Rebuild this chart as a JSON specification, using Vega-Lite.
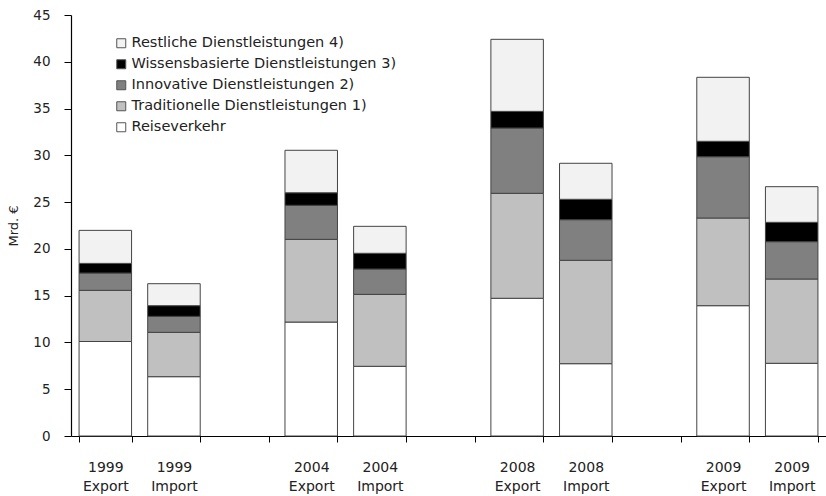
{
  "$schema": "https://vega.github.io/schema/vega-lite/v6.json",
  "autosize": {"type": "none"},
  "padding": {"left": 71, "top": 15, "right": 0, "bottom": 60},
  "width": 755,
  "height": 421,
  "background": "white",
  "config": {
    "view": {"stroke": null},
    "font": "DejaVu Sans",
    "axis": {"labelFont": "DejaVu Sans", "titleFont": "DejaVu Sans", "labelColor": "#222", "titleColor": "#222", "domainColor": "#000", "tickColor": "#000", "grid": false},
    "legend": {"labelFont": "DejaVu Sans"}
  },
  "data": {
    "values": [
      {"Gruppe": "1999 Export", "Kategorie": "Reiseverkehr", "Wert": 10.1},
      {"Gruppe": "1999 Export", "Kategorie": "Traditionelle Dienstleistungen 1)", "Wert": 5.47},
      {"Gruppe": "1999 Export", "Kategorie": "Innovative Dienstleistungen 2)", "Wert": 1.85},
      {"Gruppe": "1999 Export", "Kategorie": "Wissensbasierte Dienstleistungen 3)", "Wert": 1.03},
      {"Gruppe": "1999 Export", "Kategorie": "Restliche Dienstleistungen 4)", "Wert": 3.53},
      {"Gruppe": "1999 Import", "Kategorie": "Reiseverkehr", "Wert": 6.34},
      {"Gruppe": "1999 Import", "Kategorie": "Traditionelle Dienstleistungen 1)", "Wert": 4.74},
      {"Gruppe": "1999 Import", "Kategorie": "Innovative Dienstleistungen 2)", "Wert": 1.71},
      {"Gruppe": "1999 Import", "Kategorie": "Wissensbasierte Dienstleistungen 3)", "Wert": 1.14},
      {"Gruppe": "1999 Import", "Kategorie": "Restliche Dienstleistungen 4)", "Wert": 2.35},
      {"Gruppe": "2004 Export", "Kategorie": "Reiseverkehr", "Wert": 12.18},
      {"Gruppe": "2004 Export", "Kategorie": "Traditionelle Dienstleistungen 1)", "Wert": 8.84},
      {"Gruppe": "2004 Export", "Kategorie": "Innovative Dienstleistungen 2)", "Wert": 3.64},
      {"Gruppe": "2004 Export", "Kategorie": "Wissensbasierte Dienstleistungen 3)", "Wert": 1.34},
      {"Gruppe": "2004 Export", "Kategorie": "Restliche Dienstleistungen 4)", "Wert": 4.54},
      {"Gruppe": "2004 Import", "Kategorie": "Reiseverkehr", "Wert": 7.45},
      {"Gruppe": "2004 Import", "Kategorie": "Traditionelle Dienstleistungen 1)", "Wert": 7.69},
      {"Gruppe": "2004 Import", "Kategorie": "Innovative Dienstleistungen 2)", "Wert": 2.71},
      {"Gruppe": "2004 Import", "Kategorie": "Wissensbasierte Dienstleistungen 3)", "Wert": 1.68},
      {"Gruppe": "2004 Import", "Kategorie": "Restliche Dienstleistungen 4)", "Wert": 2.88},
      {"Gruppe": "2008 Export", "Kategorie": "Reiseverkehr", "Wert": 14.72},
      {"Gruppe": "2008 Export", "Kategorie": "Traditionelle Dienstleistungen 1)", "Wert": 11.22},
      {"Gruppe": "2008 Export", "Kategorie": "Innovative Dienstleistungen 2)", "Wert": 6.98},
      {"Gruppe": "2008 Export", "Kategorie": "Wissensbasierte Dienstleistungen 3)", "Wert": 1.78},
      {"Gruppe": "2008 Export", "Kategorie": "Restliche Dienstleistungen 4)", "Wert": 7.7},
      {"Gruppe": "2008 Import", "Kategorie": "Reiseverkehr", "Wert": 7.73},
      {"Gruppe": "2008 Import", "Kategorie": "Traditionelle Dienstleistungen 1)", "Wert": 11.05},
      {"Gruppe": "2008 Import", "Kategorie": "Innovative Dienstleistungen 2)", "Wert": 4.34},
      {"Gruppe": "2008 Import", "Kategorie": "Wissensbasierte Dienstleistungen 3)", "Wert": 2.18},
      {"Gruppe": "2008 Import", "Kategorie": "Restliche Dienstleistungen 4)", "Wert": 3.85},
      {"Gruppe": "2009 Export", "Kategorie": "Reiseverkehr", "Wert": 13.93},
      {"Gruppe": "2009 Export", "Kategorie": "Traditionelle Dienstleistungen 1)", "Wert": 9.37},
      {"Gruppe": "2009 Export", "Kategorie": "Innovative Dienstleistungen 2)", "Wert": 6.55},
      {"Gruppe": "2009 Export", "Kategorie": "Wissensbasierte Dienstleistungen 3)", "Wert": 1.65},
      {"Gruppe": "2009 Export", "Kategorie": "Restliche Dienstleistungen 4)", "Wert": 6.84},
      {"Gruppe": "2009 Import", "Kategorie": "Reiseverkehr", "Wert": 7.77},
      {"Gruppe": "2009 Import", "Kategorie": "Traditionelle Dienstleistungen 1)", "Wert": 9.01},
      {"Gruppe": "2009 Import", "Kategorie": "Innovative Dienstleistungen 2)", "Wert": 3.99},
      {"Gruppe": "2009 Import", "Kategorie": "Wissensbasierte Dienstleistungen 3)", "Wert": 2.07},
      {"Gruppe": "2009 Import", "Kategorie": "Restliche Dienstleistungen 4)", "Wert": 3.81}
    ]
  },
  "transform": [
    {"calculate": "indexof(['Reiseverkehr', 'Traditionelle Dienstleistungen 1)', 'Innovative Dienstleistungen 2)', 'Wissensbasierte Dienstleistungen 3)', 'Restliche Dienstleistungen 4)'], datum.Kategorie)", "as": "Ebene"}
  ],
  "mark": {"type": "bar", "stroke": "#444", "strokeWidth": 1},
  "encoding": {
    "x": {
      "field": "Gruppe",
      "type": "nominal",
      "scale": {
        "domain": ["1999 Export", "1999 Import", " ", "2004 Export", "2004 Import", "  ", "2008 Export", "2008 Import", "   ", "2009 Export", "2009 Import"],
        "paddingInner": 0.235,
        "paddingOuter": 0.1175
      },
      "axis": {
        "title": null,
        "labelAngle": 0,
        "tickBand": "extent",
        "tickSize": 6,
        "labelPadding": 18,
        "labelFontSize": 14,
        "labelLineHeight": 19,
        "labelExpr": "split(datum.label, ' ')",
        "domainWidth": 1.2
      }
    },
    "y": {
      "field": "Wert",
      "type": "quantitative",
      "stack": "zero",
      "scale": {"domain": [0, 45], "nice": false},
      "axis": {
        "title": "Mrd. €",
        "titleFontSize": 13,
        "titleFontWeight": "normal",
        "titlePadding": 12,
        "values": [0, 5, 10, 15, 20, 25, 30, 35, 40, 45],
        "labelFontSize": 13.5,
        "tickSize": 7,
        "labelPadding": 14,
        "domainWidth": 1.2
      }
    },
    "order": {"field": "Ebene", "type": "quantitative", "sort": "ascending"},
    "color": {
      "field": "Kategorie",
      "type": "nominal",
      "sort": ["Restliche Dienstleistungen 4)", "Wissensbasierte Dienstleistungen 3)", "Innovative Dienstleistungen 2)", "Traditionelle Dienstleistungen 1)", "Reiseverkehr"],
      "scale": {
        "domain": ["Restliche Dienstleistungen 4)", "Wissensbasierte Dienstleistungen 3)", "Innovative Dienstleistungen 2)", "Traditionelle Dienstleistungen 1)", "Reiseverkehr"],
        "range": ["#f2f2f2", "#000000", "#808080", "#c0c0c0", "#ffffff"]
      },
      "legend": {
        "title": null,
        "orient": "none",
        "legendX": 43,
        "legendY": 21,
        "symbolType": "square",
        "symbolSize": 81,
        "symbolStrokeColor": "#555",
        "symbolStrokeWidth": 1,
        "labelFontSize": 14.5,
        "labelColor": "#222",
        "labelOffset": 3,
        "rowPadding": 6,
        "padding": 0,
        "labelLimit": 400
      }
    }
  }
}
